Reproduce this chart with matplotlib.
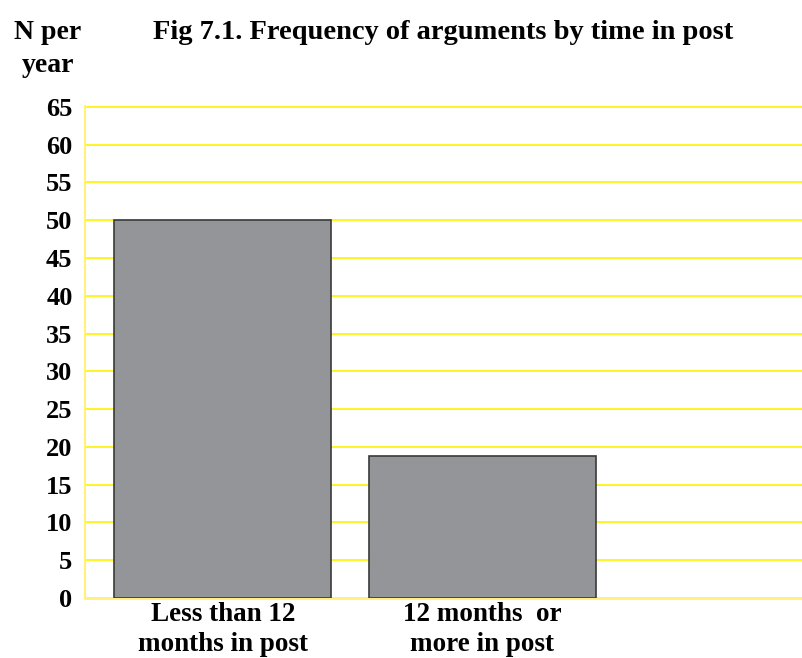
import matplotlib
matplotlib.use("Agg")
import matplotlib.pyplot as plt

# data
categories = ["Less than 12\nmonths in post", "12 months  or\nmore in post"]
values = [50, 18.8]
yticks = list(range(0, 70, 5))

plt.rcParams['font.family'] = ['Liberation Serif', 'DejaVu Serif']
plt.rcParams['font.weight'] = 'bold'

fig = plt.figure(figsize=(8.02, 6.58), dpi=100)
ax = fig.add_axes([0.106, 0.0912, 0.894, 0.7475])

pos = [0, 1]
ax.bar(pos, values, width=[0.835, 0.873], color='#939598', edgecolor='#3a3a3a',
       linewidth=1.2, zorder=3)

ax.set_xlim(-0.53, 2.23)
ax.set_ylim(0, 65.1)
ax.set_yticks(yticks)
ax.set_yticklabels([str(t) for t in yticks], fontsize=19, fontweight='bold')
ax.set_xticks(pos)
ax.set_xticklabels(categories, fontsize=19.5, fontweight='bold', linespacing=1.25)

ax.yaxis.grid(True, color='#fff200', linewidth=1.2, zorder=0)
ax.set_axisbelow(True)
for s in ['top', 'right']:
    ax.spines[s].set_visible(False)
ax.spines['left'].set_color('#fff27a')
ax.spines['bottom'].set_color('#fff27a')
ax.spines['left'].set_linewidth(1.5)
ax.spines['bottom'].set_linewidth(2)
ax.tick_params(length=0)
ax.tick_params(axis='y', pad=9)
ax.tick_params(axis='x', pad=3)

fig.text(0.553, 0.951, "Fig 7.1. Frequency of arguments by time in post",
         ha='center', va='center', fontsize=20.5, fontweight='bold')
fig.text(0.06, 0.951, "N per", ha='center', va='center', fontsize=20, fontweight='bold')
fig.text(0.06, 0.9, "year", ha='center', va='center', fontsize=20, fontweight='bold')

plt.savefig('out.png', dpi=100)
